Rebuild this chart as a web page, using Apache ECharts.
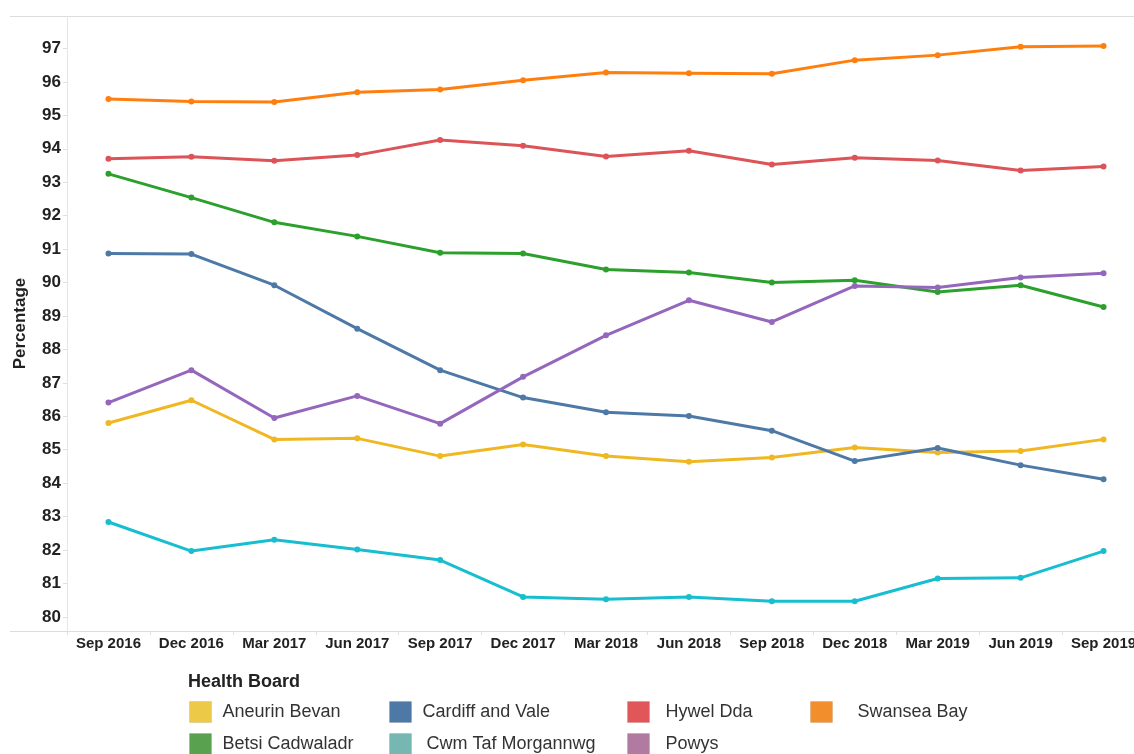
<!DOCTYPE html>
<html>
<head>
<meta charset="utf-8">
<script src="https://cdn.jsdelivr.net/npm/echarts@6/dist/echarts.min.js"></script>
<style>
html,body{margin:0;padding:0;background:#fff;overflow:hidden;width:1134px;height:754px;}
#chart{width:1150px;height:754px;}
</style>
</head>
<body>
<div id="chart"></div>
<script>
var categories = ['Sep 2016','Dec 2016','Mar 2017','Jun 2017','Sep 2017','Dec 2017','Mar 2018','Jun 2018','Sep 2018','Dec 2018','Mar 2019','Jun 2019','Sep 2019'];
var yTicks = [80,81,82,83,84,85,86,87,88,89,90,91,92,93,94,95,96,97];

var aneurinBevan   = [85.80,86.48,85.31,85.34,84.81,85.16,84.81,84.64,84.77,85.07,84.92,84.96,85.31];
var betsiCadwaladr = [93.25,92.54,91.80,91.38,90.89,90.87,90.39,90.30,90.00,90.07,89.72,89.92,89.27];
var cardiffVale    = [90.87,90.85,89.92,88.62,87.38,86.56,86.12,86.01,85.57,84.66,85.05,84.54,84.12];
var cwmTaf         = [82.84,81.97,82.31,82.02,81.70,80.60,80.53,80.60,80.47,80.47,81.15,81.17,81.97];
var hywelDda       = [93.70,93.76,93.64,93.81,94.26,94.09,93.77,93.94,93.53,93.73,93.65,93.35,93.47];
var powys          = [86.41,87.38,85.95,86.61,85.78,87.18,88.42,89.47,88.82,89.90,89.85,90.15,90.28];
var swanseaBay     = [95.49,95.41,95.40,95.69,95.77,96.05,96.28,96.26,96.24,96.65,96.80,97.05,97.07];

var seriesNames = ['Aneurin Bevan','Betsi Cadwaladr','Cardiff and Vale','Cwm Taf Morgannwg','Hywel Dda','Powys','Swansea Bay'];
var seriesData = [aneurinBevan,betsiCadwaladr,cardiffVale,cwmTaf,hywelDda,powys,swanseaBay];
var lineColors = ['#efb822','#2ca02c','#4e79a7','#17becf','#dc5458','#9467bd','#ff7f0e'];
var swatchColors = {'Aneurin Bevan':'#edc948','Betsi Cadwaladr':'#59a14f','Cardiff and Vale':'#4e79a7','Cwm Taf Morgannwg':'#76b7b2','Hywel Dda':'#e15759','Powys':'#b07aa1','Swansea Bay':'#f28e2b'};

// legend layout: [name, left, top, text gap]
var legendLayout = [
  ['Aneurin Bevan',189,701,6],
  ['Cardiff and Vale',389,701,6],
  ['Hywel Dda',627,701,11],
  ['Swansea Bay',810,701,20],
  ['Betsi Cadwaladr',189,733,6],
  ['Cwm Taf Morgannwg',389,733,10],
  ['Powys',627,733,11]
];

var chart = echarts.init(document.getElementById('chart'));

var series = seriesNames.map(function(n,i){
  return {
    name:n, type:'line', data:seriesData[i],
    symbol:'circle', symbolSize:6, showSymbol:true,
    lineStyle:{width:3,color:lineColors[i]},
    itemStyle:{color:lineColors[i]},
    emphasis:{disabled:true},
    animation:false
  };
});

var legends = legendLayout.map(function(l){
  return {
    left:l[1], top:l[2], orient:'horizontal', padding:0,
    itemWidth:22, itemHeight:21, icon:'rect',
    selectedMode:false,
    data:[{name:l[0], itemStyle:{color:swatchColors[l[0]], borderColor:'rgba(0,0,0,0.08)', borderWidth:1}}],
    textStyle:{fontFamily:'Liberation Sans, Arial, sans-serif', fontSize:18, color:'#333', padding:[0,0,0,l[3]]}
  };
});

var option = {
  animation:false,
  backgroundColor:'#ffffff',
  grid:{left:67, right:5, top:16, bottom:123, containLabel:false},
  xAxis:{
    type:'category', data:categories, boundaryGap:true,
    axisLine:{show:false},
    axisTick:{show:true, length:4, lineStyle:{color:'#e0e0e0'}},
    axisLabel:{fontFamily:'Liberation Sans, Arial, sans-serif', fontWeight:'bold', fontSize:15, color:'#222', margin:5, interval:0}
  },
  yAxis:{
    type:'value', min:79.58, max:97.97,
    name:'Percentage', nameLocation:'middle', nameGap:38, nameRotate:90,
    nameTextStyle:{fontFamily:'Liberation Sans, Arial, sans-serif', fontWeight:'bold', fontSize:17, color:'#222'},
    axisLine:{show:true, lineStyle:{color:'#e6e6e6', width:1}},
    axisTick:{show:true, length:4, customValues:yTicks, lineStyle:{color:'#e0e0e0'}},
    axisLabel:{customValues:yTicks, fontFamily:'Liberation Sans, Arial, sans-serif', fontWeight:'bold', fontSize:17, color:'#222', margin:6},
    splitLine:{show:false}
  },
  legend:legends,
  graphic:[
    {type:'line', shape:{x1:10,y1:16.5,x2:1150,y2:16.5}, style:{stroke:'#dcdcdc', lineWidth:1}, silent:true},
    {type:'line', shape:{x1:10,y1:631.5,x2:1150,y2:631.5}, style:{stroke:'#dcdcdc', lineWidth:1}, silent:true},
    {type:'text', left:188, top:673, style:{text:'Health Board', font:'bold 18px "Liberation Sans", Arial, sans-serif', fill:'#222'}, silent:true}
  ],
  series:series
};
chart.setOption(option);
</script>
</body>
</html>
